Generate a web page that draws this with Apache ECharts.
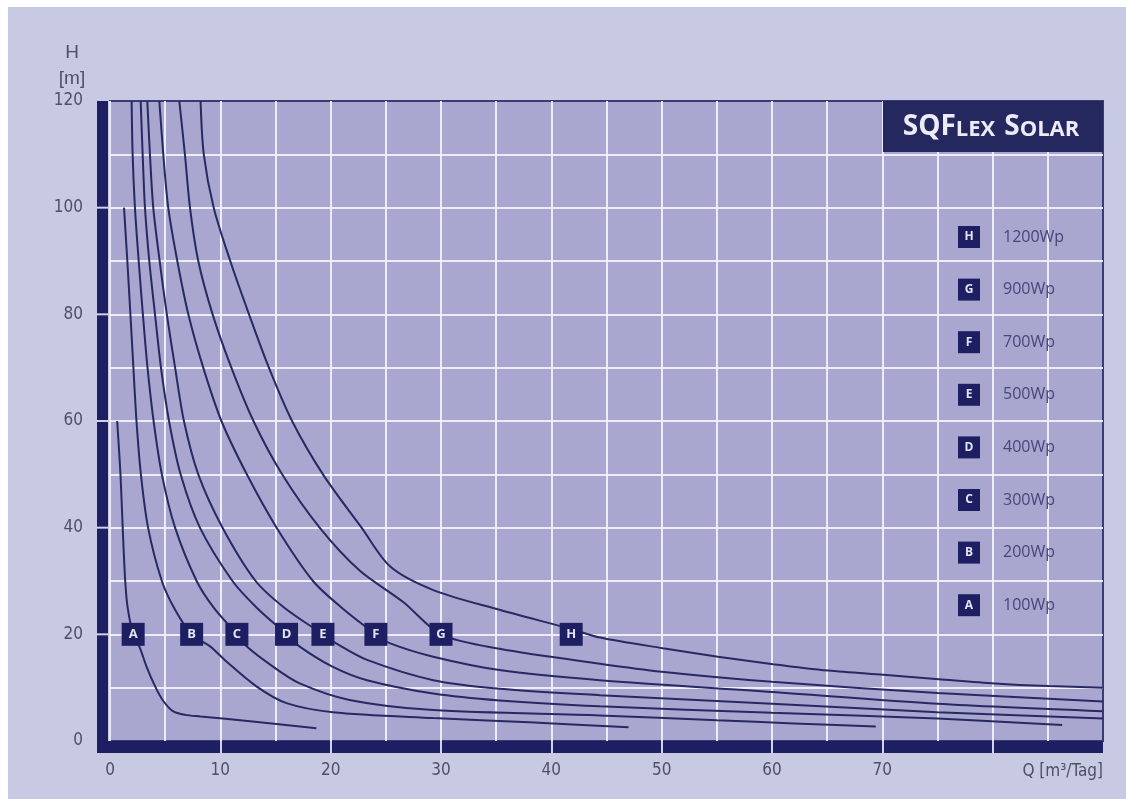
<!DOCTYPE html>
<html>
<head>
<meta charset="utf-8">
<title>SQFlex Solar</title>
<script src="https://cdn.jsdelivr.net/npm/echarts@6/dist/echarts.min.js"></script>
<style>
  html, body { margin: 0; padding: 0; background: #fff; }
  .paper { position: absolute; left: 8px; top: 7px; right: 0; bottom: 0; background: #c8c9e3; }
  #chart { position: absolute; left: 0; top: 0; width: 1126px; height: 799px; }
</style>
</head>
<body>
<div class="paper"></div>
<div id="chart"></div>
<script>
// Kennlinien SQFlex Solar: Förderhöhe H [m] über Fördermenge Q [m³/Tag]
const curveLetters = ['A', 'B', 'C', 'D', 'E', 'F', 'G', 'H']
const curveNames = ['100Wp', '200Wp', '300Wp', '400Wp', '500Wp', '700Wp', '900Wp', '1200Wp']

// [Q, H] Punkte
const curveA = [[0.65, 60], [0.95, 50], [1.15, 40], [1.38, 30], [1.6, 25], [2.1, 20], [2.7, 17.5], [3.3, 14], [4.1, 10.2], [4.8, 7.6], [5.7, 5.6], [6.8, 4.9], [8.2, 4.6], [12.7, 3.7], [18.7, 2.4]]
const curveB = [[1.27, 100], [1.57, 90], [1.85, 80], [2.12, 70], [2.4, 60], [2.8, 50], [3.45, 40], [4.7, 30], [5.9, 24.6], [7.4, 20], [9.1, 17.7], [10.5, 15], [13.3, 10.2], [16, 7.1], [20.2, 5.4], [29.3, 4.3], [38, 3.5], [47, 2.6]]
const curveC = [[1.96, 120], [2.05, 110], [2.26, 100], [2.6, 90], [2.98, 80], [3.4, 70], [3.95, 60], [4.7, 50], [5.9, 40], [7.85, 30], [9.4, 25], [11.5, 20], [12.4, 17.7], [14.8, 13.9], [17.2, 10.8], [21.7, 7.7], [29.3, 5.8], [44.4, 4.8], [55, 3.9], [62, 3.3], [69.4, 2.7]]
const curveD = [[2.78, 120], [2.96, 110], [3.17, 100], [3.56, 90], [4.08, 80], [4.62, 70], [5.35, 60], [6.4, 50], [8.15, 40], [11.1, 30], [13.3, 25], [16, 20], [17.2, 17.7], [20.2, 13.9], [23.3, 11.4], [29.3, 8.9], [35.3, 7.6], [44.4, 6.5], [60, 5.3], [75, 4.2], [86.3, 3.0]]
const curveE = [[3.38, 120], [3.62, 110], [3.92, 100], [4.5, 90], [5.15, 80], [5.9, 70], [6.7, 60], [8.0, 50], [10.2, 40], [13.2, 30], [15.8, 25], [19.3, 20], [20.5, 18.3], [23.3, 15.2], [29.3, 11.4], [35.3, 9.8], [44.4, 8.6], [60, 7.0], [75, 5.4], [90, 4.2]]
const curveF = [[4.47, 120], [4.83, 110], [5.28, 100], [6.1, 90], [7.1, 80], [8.45, 70], [10.1, 60], [12.4, 50], [15.1, 40], [18.4, 30], [21, 25], [24.1, 20], [25.4, 18.3], [29.3, 15.8], [35.3, 13.3], [44.4, 11.4], [60, 9.2], [75, 7.0], [90, 5.6]]
const curveG = [[6.28, 120], [6.79, 110], [7.25, 100], [8.0, 90], [9.3, 80], [11.0, 70], [13.0, 60], [15.6, 50], [19.0, 40], [22.6, 32], [26.6, 26], [30.0, 20], [35.3, 17.3], [44.4, 14.5], [50, 13.0], [60, 11.1], [75, 9.0], [90, 7.4]]
const curveH = [[8.21, 120], [8.5, 110], [9.4, 100], [10.9, 90], [12.6, 80], [14.4, 70], [16.5, 60], [19.3, 50], [22.8, 40], [25.4, 32.7], [29.3, 28.3], [35.3, 24.6], [41.8, 21.0], [44.4, 19.4], [50.1, 17.4], [55.1, 15.8], [60.1, 14.4], [65.1, 13.2], [70.1, 12.4], [75.1, 11.6], [80.2, 10.8], [85.1, 10.3], [90, 10.0]]
const curves = [curveA, curveB, curveC, curveD, curveE, curveF, curveG, curveH]

// Buchstaben-Marken auf den Kurven
const labelQ = [2.1, 7.4, 11.5, 16.0, 19.3, 24.1, 30.0, 41.8]
const labelH = [20, 20, 20, 20, 20, 20, 20, 20]

// Achsen
const Q_MAX = 90
const H_MAX = 120
const xLabelValues = [0, 10, 20, 30, 40, 50, 60, 70]
const yLabelValues = [0, 20, 40, 60, 80, 100, 120]
const xBandTicks = [10, 20, 30, 40, 50, 60, 70, 80]
const yBandTicks = [20, 40, 60, 80, 100]

const W = 1126
const H = 799
const GRID = { left: 110, right: 23, top: 101, bottom: 58 }
const PLOT_H = H - GRID.top - GRID.bottom
const NAVY = '#1e1f62'
const LINE = '#272962'
const GRIDLINE = 'rgba(240,239,252,0.95)'
const GAP = '#d2d0ea'
const LABEL = '#4f5064'
const NARROW = "'Liberation Sans Narrow', 'DejaVu Sans Condensed', sans-serif"

const chart = echarts.init(document.getElementById('chart'), null, { renderer: 'canvas' })

const lineSeries = curves.map((data, i) => ({
  name: curveNames[i],
  type: 'line',
  data: data,
  smooth: 0.3,
  showSymbol: false,
  silent: true,
  lineStyle: { color: LINE, width: 2 },
  itemStyle: { color: NAVY },
  z: 3
}))

const plainAxis = {
  axisLine: { show: false },
  axisTick: { show: false },
  axisLabel: { show: false },
  splitLine: { show: false }
}

// helle Unterbrechungen im linken Balken
const yGaps = yBandTicks.map(v => ({
  type: 'rect',
  shape: { x: GRID.left - 14, y: GRID.top + (1 - v / H_MAX) * PLOT_H - 1, width: 12, height: 2 },
  style: { fill: GAP },
  z: 100
}))

chart.setOption({
  animation: false,
  backgroundColor: 'transparent',
  grid: {
    left: GRID.left,
    right: GRID.right,
    top: GRID.top,
    bottom: GRID.bottom,
    show: true,
    backgroundColor: '#a9a7cf',
    borderColor: '#3a3b74',
    borderWidth: 2
  },
  xAxis: [
    {
      type: 'value',
      position: 'bottom',
      min: 0,
      max: Q_MAX,
      interval: 5,
      axisLine: { show: false },
      axisTick: { show: false },
      splitLine: { show: true, showMinLine: true, showMaxLine: false, lineStyle: { color: GRIDLINE, width: 2 } },
      axisLabel: { customValues: xLabelValues, margin: 21, color: LABEL, fontSize: 17, fontFamily: NARROW },
      name: 'Q [m³/Tag]',
      nameLocation: 'end',
      nameGap: 0,
      nameTextStyle: { align: 'right', verticalAlign: 'top', padding: [22, 0, 0, 0], color: LABEL, fontSize: 17, fontFamily: NARROW }
    },
    Object.assign({ type: 'value', position: 'bottom', min: 0, max: Q_MAX, offset: 6, z: 1 }, plainAxis, {
      axisLine: { show: true, onZero: false, lineStyle: { color: NAVY, width: 12, cap: 'butt' } }
    }),
    Object.assign({ type: 'value', position: 'bottom', min: 0, max: Q_MAX, interval: 10, z: 4 }, plainAxis, {
      axisTick: { show: true, customValues: xBandTicks, length: 12, lineStyle: { color: GAP, width: 2 } },
      axisLabel: { show: false, customValues: xBandTicks }
    })
  ],
  yAxis: [
    {
      type: 'value',
      position: 'left',
      min: 0,
      max: H_MAX,
      interval: 10,
      axisLine: { show: false },
      axisTick: { show: false },
      splitLine: { show: true, showMinLine: false, showMaxLine: false, lineStyle: { color: GRIDLINE, width: 2 } },
      axisLabel: { customValues: yLabelValues, margin: 27, color: LABEL, fontSize: 17, fontFamily: NARROW }
    },
    Object.assign({ type: 'value', position: 'left', min: 0, max: H_MAX, offset: 7.5, z: 1 }, plainAxis, {
      axisLine: { show: true, onZero: false, lineStyle: { color: NAVY, width: 11, cap: 'butt' } }
    })
  ],
  legend: {
    orient: 'vertical',
    left: 948,
    top: 221,
    itemGap: 30.6,
    itemWidth: 0,
    itemHeight: 0,
    icon: 'none',
    selectedMode: false,
    data: curveNames.slice().reverse(),
    formatter: name => '{b|' + curveLetters[curveNames.indexOf(name)] + '}{t|' + name + '}',
    textStyle: {
      rich: {
        b: { width: 22, height: 22, lineHeight: 22, align: 'center', backgroundColor: NAVY, color: '#e4e3f4', fontSize: 12, fontWeight: 'bold', fontFamily: 'Open Sans' },
        t: { padding: [0, 0, 0, 23], fontSize: 16, color: '#45477a', fontFamily: 'Open Sans', lineHeight: 22 }
      }
    }
  },
  graphic: [
    // Ecke zwischen linkem und unterem Balken
    { type: 'rect', shape: { x: GRID.left - 13, y: H - GRID.bottom, width: 13, height: 12 }, style: { fill: NAVY }, z: 10 },
    // Titelfeld
    { type: 'rect', shape: { x: W - GRID.right - 220, y: GRID.top, width: 220, height: 51 }, style: { fill: '#25275f' }, z: 10 },
    {
      type: 'text',
      x: W - GRID.right - 112,
      y: GRID.top + 26,
      z: 11,
      style: {
        text: '{a|SQF}{b|LEX}{s| }{a|S}{b|OLAR}',
        align: 'center',
        verticalAlign: 'middle',
        rich: {
          a: { fontSize: 28, fontWeight: 'bold', fill: '#ecebf7', fontFamily: 'Open Sans', height: 28, lineHeight: 28, verticalAlign: 'bottom' },
          b: { fontSize: 22, fontWeight: 'bold', fill: '#ecebf7', fontFamily: 'Open Sans', height: 22, lineHeight: 22, verticalAlign: 'bottom' },
          s: { width: 9, height: 22 }
        }
      }
    },
    // Achsenname H [m]
    {
      type: 'text',
      x: 72,
      y: 40,
      style: { text: 'H\n[m]', align: 'center', fill: LABEL, font: "19px 'Liberation Sans Narrow', sans-serif", lineHeight: 26 }
    }
  ].concat(yGaps),
  series: lineSeries.concat([{
    type: 'scatter',
    silent: true,
    data: labelQ.map((q, i) => [q, labelH[i], curveLetters[i]]),
    symbol: 'rect',
    symbolSize: [23, 23],
    itemStyle: { color: NAVY, opacity: 1 },
    label: {
      show: true,
      position: 'inside',
      formatter: p => p.data[2],
      color: '#e4e3f4',
      fontSize: 13,
      fontWeight: 'bold',
      fontFamily: 'Open Sans'
    },
    z: 5
  }])
})
</script>
</body>
</html>
